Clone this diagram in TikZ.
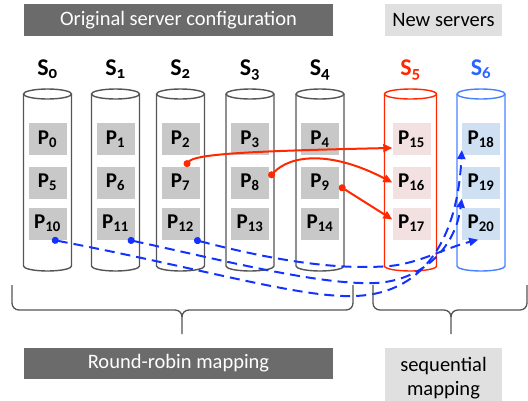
\documentclass[tikz,border=0pt]{standalone}
\usepackage{fontspec}
\setmainfont{Carlito}
\usetikzlibrary{arrows.meta}
\definecolor{barDark}{RGB}{107,107,107}
\definecolor{barLight}{RGB}{224,224,224}
\definecolor{partGray}{RGB}{200,200,200}
\definecolor{partPink}{RGB}{242,225,224}
\definecolor{partBlue}{RGB}{207,224,242}
\definecolor{drumGray}{RGB}{85,85,85}
\definecolor{srvRed}{RGB}{255,40,0}
\definecolor{srvBlue}{RGB}{70,130,255}
\definecolor{labBlue}{RGB}{40,100,255}
\definecolor{dashBlue}{RGB}{20,50,255}

\begin{document}
\begin{tikzpicture}[x=1pt, y=-1pt,
    bar/.style={fill=barDark, text=white, minimum height=32, inner sep=0pt, font=\fontsize{20.5}{22}\selectfont},
    tag/.style={fill=barLight, minimum height=32, inner sep=0pt, align=center, font=\fontsize{20.5}{23.5}\selectfont},
    srvlabel/.style={anchor=base, inner sep=0pt, font=\fontsize{24}{26}\selectfont\bfseries\addfontfeatures{Numbers=OldStyle}},
    part/.style={fill=partGray, minimum width=38, minimum height=32, inner sep=0pt, font=\fontsize{21}{22}\selectfont\bfseries},
    drum/.style={draw=drumGray, line width=1.4pt},
    moved/.style={draw=srvRed, line width=2pt, {Circle[length=7pt]}-{Triangle[length=9pt,width=8pt]}},
    remap/.style={draw=dashBlue, line width=2pt, dash pattern=on 10pt off 6pt, {Circle[length=7pt]}-{Triangle[length=9pt,width=8pt]}},
    brace/.style={draw=drumGray, line width=1.3pt},
  ]
  \useasboundingbox (0,0) rectangle (528,400);

  % headings
  \node[bar, minimum width=309] (origcfg) at (178.5,20) {Original server configuration};
  \node[tag, minimum width=117] (newsrv) at (443.5,20) {New servers};

  % servers
  \node[srvlabel] (s0) at (47.5,75) {S\textsubscript{0}};
  \node[srvlabel] (s1) at (115.5,75) {S\textsubscript{1}};
  \node[srvlabel] (s2) at (180.5,75) {S\textsubscript{2}};
  \node[srvlabel] (s3) at (250,75) {S\textsubscript{3}};
  \node[srvlabel] (s4) at (320,75) {S\textsubscript{4}};
  \node[srvlabel, text=srvRed] (s5) at (410.5,75) {S\textsubscript{5}};
  \node[srvlabel, text=labBlue] (s6) at (481,75) {S\textsubscript{6}};

  \draw[drum] (23.5,94) -- (23.5,266) arc[start angle=180, end angle=0, x radius=24, y radius=5] -- (71.5,94);
  \draw[drum] (47.5,94) ellipse[x radius=24, y radius=5];
  \draw[drum] (91.5,94) -- (91.5,266) arc[start angle=180, end angle=0, x radius=24, y radius=5] -- (139.5,94);
  \draw[drum] (115.5,94) ellipse[x radius=24, y radius=5];
  \draw[drum] (156.5,94) -- (156.5,266) arc[start angle=180, end angle=0, x radius=24, y radius=5] -- (204.5,94);
  \draw[drum] (180.5,94) ellipse[x radius=24, y radius=5];
  \draw[drum] (226,94) -- (226,266) arc[start angle=180, end angle=0, x radius=24, y radius=5] -- (274,94);
  \draw[drum] (250,94) ellipse[x radius=24, y radius=5];
  \draw[drum] (296,94) -- (296,266) arc[start angle=180, end angle=0, x radius=24, y radius=5] -- (344,94);
  \draw[drum] (320,94) ellipse[x radius=24, y radius=5];
  \draw[drum, draw=srvRed] (384.5,94) -- (384.5,266) arc[start angle=180, end angle=0, x radius=26, y radius=5] -- (436.5,94);
  \draw[drum, draw=srvRed] (410.5,94) ellipse[x radius=26, y radius=5];
  \draw[drum, draw=srvBlue] (457,94) -- (457,266) arc[start angle=180, end angle=0, x radius=24, y radius=5] -- (505,94);
  \draw[drum, draw=srvBlue] (481,94) ellipse[x radius=24, y radius=5];

  % partitions
  \node[part] (p0) at (47.5,139) {P\textsubscript{0}};
  \node[part] (p5) at (47.5,182.5) {P\textsubscript{5}};
  \node[part] (p10) at (47.5,223.5) {P\textsubscript{10}};
  \node[part] (p1) at (115.5,139) {P\textsubscript{1}};
  \node[part] (p6) at (115.5,182.5) {P\textsubscript{6}};
  \node[part] (p11) at (115.5,223.5) {P\textsubscript{11}};
  \node[part] (p2) at (180.5,139) {P\textsubscript{2}};
  \node[part] (p7) at (180.5,182.5) {P\textsubscript{7}};
  \node[part] (p12) at (180.5,223.5) {P\textsubscript{12}};
  \node[part] (p3) at (250,139) {P\textsubscript{3}};
  \node[part] (p8) at (250,182.5) {P\textsubscript{8}};
  \node[part] (p13) at (250,223.5) {P\textsubscript{13}};
  \node[part] (p4) at (320,139) {P\textsubscript{4}};
  \node[part] (p9) at (320,182.5) {P\textsubscript{9}};
  \node[part] (p14) at (320,223.5) {P\textsubscript{14}};
  \node[part, fill=partPink] (p15) at (411.5,139) {P\textsubscript{15}};
  \node[part, fill=partPink] (p16) at (411.5,182.5) {P\textsubscript{16}};
  \node[part, fill=partPink] (p17) at (411.5,223.5) {P\textsubscript{17}};
  \node[part, fill=partBlue] (p18) at (481,139) {P\textsubscript{18}};
  \node[part, fill=partBlue] (p19) at (481,182.5) {P\textsubscript{19}};
  \node[part, fill=partBlue] (p20) at (481,223.5) {P\textsubscript{20}};

  % moves to the new servers
  \draw[moved] (p7.75) .. controls (195,154) and (250,151) .. (p15.205);
  \draw[moved] (p8.15) .. controls (290,155) and (330,150) .. (p16.west);
  \draw[moved] (p9.-10) -- (p17.168);

  \coordinate (dip10) at (354,296);
  \coordinate (dip11) at (375,283);
  \coordinate (dip12) at (390,266);
  \draw[remap] (p10.-75) .. controls (200,268) and (300,298) .. (dip10) .. controls (430,294) and (458,230) .. (p18.210);
  \draw[remap] (p11.-53) .. controls (230,262) and (320,285) .. (dip11) .. controls (420,281) and (455,250) .. (p19.220);
  \draw[remap] (p12.-50) .. controls (280,262) and (340,270) .. (dip12) .. controls (420,263) and (445,248) .. (p20.-100);

  % braces
  \draw[brace] (12,285) -- (12,303) .. controls (12,307) and (15,310) .. (19,310) -- (175,310) .. controls (179,310) and (182,313) .. (182,317) -- (182,334);
  \draw[brace] (353,285) -- (353,303) .. controls (353,307) and (350,310) .. (346,310) -- (189,310) .. controls (185,310) and (182,313) .. (182,317);
  \draw[brace] (373,285) -- (373,303) .. controls (373,307) and (376,310) .. (380,310) -- (444,310) .. controls (448,310) and (451,313) .. (451,317) -- (451,334);
  \draw[brace] (527,285) -- (527,303) .. controls (527,307) and (524,310) .. (520,310) -- (458,310) .. controls (454,310) and (451,313) .. (451,317);

  \node[bar, minimum width=309, minimum height=31] (rrmap) at (178.5,363.5) {Round-robin mapping};
  \node[tag, minimum width=117, minimum height=60] (seqmap) at (443.5,378) {sequential\\mapping};
\end{tikzpicture}
\end{document}
